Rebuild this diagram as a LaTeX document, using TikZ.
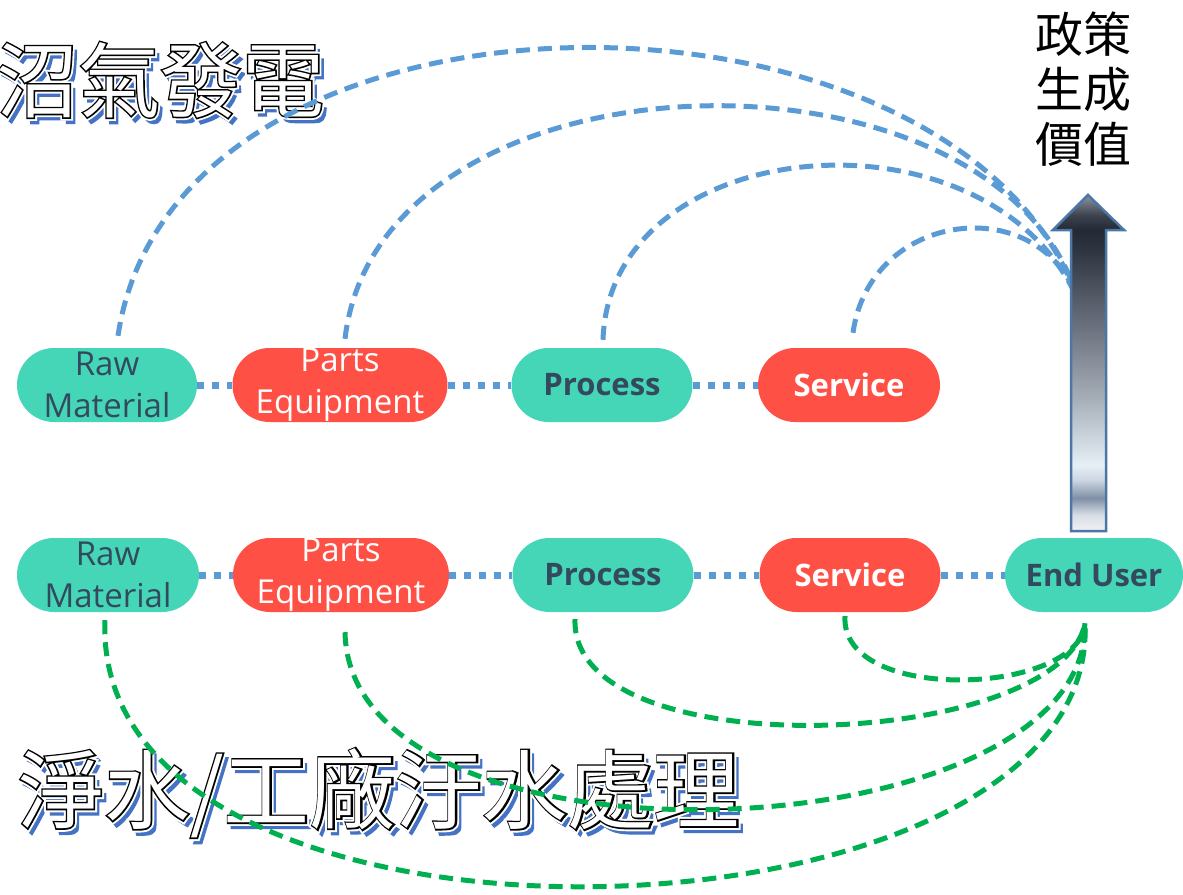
\documentclass[tikz,border=0pt]{standalone}
\usepackage{fontspec}
\setmainfont{Open Sans}
\newfontfamily\cjk{Noto Sans CJK TC}
\newfontfamily\titleshadow[FakeBold=4]{Noto Sans CJK TC}
\newfontfamily\titlehalo[FakeBold=8]{Noto Sans CJK TC}
\newfontfamily\titleedge[FakeBold=3.5]{Noto Sans CJK TC}
\newfontfamily\titlefill{Noto Sans CJK TC}

\definecolor{nodegreen}{HTML}{44D6B7}
\definecolor{nodered}{HTML}{FF5046}
\definecolor{nodetext}{HTML}{34495E}
\definecolor{linkblue}{HTML}{5B9BD5}
\definecolor{linkgreen}{HTML}{00B050}
\definecolor{shadowblue}{HTML}{4472C4}
\definecolor{arrowedge}{HTML}{4A77A6}
% colour stops of the rising arrow, bottom to tip
\definecolor{ag0}{HTML}{F0F2F5}
\definecolor{ag1}{HTML}{D8DDE5}
\definecolor{ag2}{HTML}{7F8FA6}
\definecolor{ag3}{HTML}{CCD6E2}
\definecolor{ag4}{HTML}{E6EEF6}
\definecolor{ag5}{HTML}{A7AFB9}
\definecolor{ag6}{HTML}{6D7380}
\definecolor{ag7}{HTML}{2F3540}
\definecolor{ag8}{HTML}{242A35}
\definecolor{ag9}{HTML}{3D434E}
\definecolor{ag10}{HTML}{8E949E}

\pgfdeclareverticalshading{arrowgrad}{100bp}{%
  color(0bp)=(ag0); color(25bp)=(ag0); color(27.4bp)=(ag1); color(29.9bp)=(ag2);
  color(32.6bp)=(ag3); color(34.8bp)=(ag4); color(44.5bp)=(ag5); color(55bp)=(ag6);
  color(66.8bp)=(ag7); color(69.8bp)=(ag8); color(72bp)=(ag9); color(75bp)=(ag10);
  color(100bp)=(ag10)}

\tikzset{
  stadium/.style={rectangle, rounded corners=37pt, minimum height=74pt, inner sep=0pt,
    align=center, font=\fontsize{33}{42}\selectfont},
  greenbox/.style={stadium, fill=nodegreen, text=nodetext},
  redbox/.style={stadium, fill=nodered, text=white},
  boldlbl/.style={font=\bfseries\fontsize{31}{38}\selectfont},
  dotconn/.style={draw=linkblue, line width=7pt, dash pattern=on 7pt off 8pt},
  bluedash/.style={draw=linkblue, line width=5pt, dash pattern=on 14pt off 8pt},
  greendash/.style={draw=linkgreen, line width=5pt, dash pattern=on 14pt off 8pt},
  titlebase/.style={anchor=west, inner sep=0pt},
}

% outlined heading: blue drop shadow, white halo, dark edge, white face
\newcommand\shadowtitle[4]{%
  \node[titlebase, text=shadowblue, font=\titleshadow\fontsize{#3}{#3}\selectfont]
    (#1-shadow) at ([shift={(4,5)}]#2) {#4};
  \node[titlebase, text=white, font=\titlehalo\fontsize{#3}{#3}\selectfont]
    (#1-halo) at (#2) {#4};
  \node[titlebase, text=black, font=\titleedge\fontsize{#3}{#3}\selectfont]
    (#1-edge) at (#2) {#4};
  \node[titlebase, text=white, font=\titlefill\fontsize{#3}{#3}\selectfont]
    (#1) at (#2) {#4};
}

\begin{document}
\begin{tikzpicture}[x=1pt, y=-1pt]
\useasboundingbox[fill=white] (0,0) rectangle (1183,894);

% headings
\coordinate (biogas-pos) at (-4,80);
\shadowtitle{biogas}{biogas-pos}{82}{沼氣發電}
\coordinate (water-pos) at (18,793);
\shadowtitle{water}{water-pos}{86}{淨水/工廠汙水處理}

\node[font=\cjk\fontsize{48}{55}\selectfont, align=center, inner sep=0pt]
  (policy) at (1083,89) {政策\\生成\\價值};

% value chain, upper row
\node[greenbox] (r1) at (107,385) [minimum width=180pt] {Raw\\Material};
\node[redbox]   (p1) at (340,385) [minimum width=215pt] {Parts\\Equipment};
\node[greenbox, boldlbl] (c1) at (602,385) [minimum width=181pt] {Process};
\node[redbox, boldlbl]   (s1) at (849,385) [minimum width=182pt] {Service};

% value chain, lower row
\node[greenbox] (r2) at (108,575) [minimum width=182pt] {Raw\\Material};
\node[redbox]   (p2) at (341,575) [minimum width=216pt] {Parts\\Equipment};
\node[greenbox, boldlbl] (c2) at (603,575) [minimum width=181pt] {Process};
\node[redbox, boldlbl]   (s2) at (850,575) [minimum width=181pt] {Service};
\node[greenbox, boldlbl] (e2) at (1094,575) [minimum width=178pt] {End User};

% dotted links along each row
\draw[dotconn] (r1) -- (p1);
\draw[dotconn] (p1) -- (c1);
\draw[dotconn] (c1) -- (s1);
\draw[dotconn] (r2) -- (p2);
\draw[dotconn] (p2) -- (c2);
\draw[dotconn] (c2) -- (s2);
\draw[dotconn] (s2) -- (e2);

% upper arcs into the policy arrow
\coordinate (hub) at (1078,300);
\coordinate (r1-top) at ([shift={(11,-12)}]r1.north);
\coordinate (p1-top) at ([shift={(5,-9)}]p1.north);
\coordinate (c1-top) at ([shift={(1,-8)}]c1.north);
\coordinate (s1-top) at ([shift={(4,-15)}]s1.north);
\draw[bluedash] (r1-top) .. controls (175,-45) and (960,-40) .. (hub);
\draw[bluedash] (p1-top) .. controls (380,40) and (1000,30) .. (hub);
\draw[bluedash] (c1-top) .. controls (610,130) and (990,100) .. (hub);
\draw[bluedash] (s1-top) .. controls (870,210) and (1040,190) .. (hub);

% lower arcs from the end user back to each stage
\coordinate (eu) at ([shift={(-9,11)}]e2.south);
\coordinate (r2-bot) at ([shift={(-3,8)}]r2.south);
\coordinate (p2-bot) at ([shift={(4,20)}]p2.south);
\coordinate (c2-bot) at ([shift={(-28,7)}]c2.south);
\coordinate (s2-bot) at ([shift={(-5,4)}]s2.south);
\draw[greendash] (r2-bot) .. controls (90,990) and (1100,960) .. (eu);
\draw[greendash] (p2-bot) .. controls (350,885) and (1090,855) .. (eu);
\draw[greendash] (c2-bot) .. controls (570,770) and (1060,750) .. (eu);
\draw[greendash] (s2-bot) .. controls (840,705) and (1080,695) .. (eu);

% rising arrow
\shadedraw[shading=arrowgrad, draw=arrowedge, line width=2.5pt, line join=miter]
  (1071,531) -- (1071,230) -- (1053,230) -- (1088,195) -- (1124,230)
  -- (1106,230) -- (1106,531) -- cycle;
\end{tikzpicture}
\end{document}
